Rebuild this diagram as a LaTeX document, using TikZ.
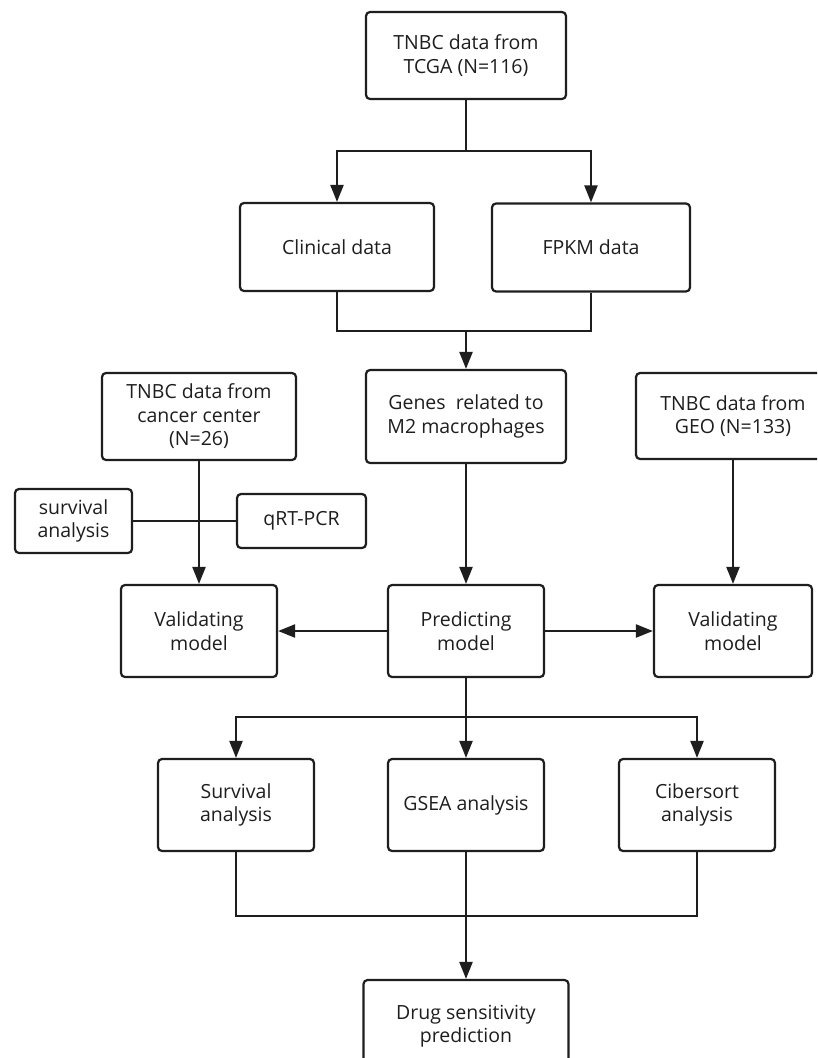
\documentclass[tikz,border=0pt]{standalone}
\usepackage{fontspec}
\setmainfont{Open Sans}
\usetikzlibrary{arrows.meta}
\definecolor{ink}{HTML}{1E1E1E}
\begin{document}
\begin{tikzpicture}[x=1pt,y=-1pt,
  box/.style={draw=ink, line width=2.2pt, rounded corners=4pt, inner sep=0pt, align=center,
    font=\fontsize{19.5}{23.5}\selectfont, text=ink},
  conn/.style={draw=ink, line width=2.2pt},
  arr/.style={conn, -{Triangle[length=17pt,width=13pt]}}]
\useasboundingbox (0,0) rectangle (817,1058);
\fill[white] (0,0) rectangle (817,1058);
\clip (0,0) rectangle (817,1058);
% top
\node[box, minimum width=200pt, minimum height=87pt] (tcga) at (466,55.5) {TNBC data from\\TCGA (N=116)};
\node[box, minimum width=194pt, minimum height=88pt] (clin) at (337,247) {Clinical data};
\node[box, minimum width=198pt, minimum height=88pt] (fpkm) at (591,247.5) {FPKM data};
% middle row
\node[box, minimum width=200pt, minimum height=93pt] (genes) at (466,416.5) {Genes~ related to\\M2 macrophages};
\node[box, minimum width=194pt, minimum height=87pt] (cancer) at (199,416.5) {TNBC data from\\cancer center\\(N=26)};
\node[box, minimum width=194pt, minimum height=86pt] (geo) at (733,416) {TNBC data from\\GEO (N=133)};
\node[box, minimum width=117pt, minimum height=64pt] (survs) at (73.5,521) {survival\\analysis};
\node[box, minimum width=129pt, minimum height=54pt] (qrt) at (301.5,521) {qRT-PCR};
% model row
\node[box, minimum width=156pt, minimum height=92pt] (valL) at (199,631) {Validating\\model};
\node[box, minimum width=156pt, minimum height=92pt] (pred) at (466,631) {Predicting\\model};
\node[box, minimum width=158pt, minimum height=92pt] (valR) at (733,631) {Validating\\model};
% analysis row
\node[box, minimum width=156pt, minimum height=92pt] (surv) at (236,805) {Survival\\analysis};
\node[box, minimum width=156pt, minimum height=92pt] (gsea) at (466,805) {GSEA analysis};
\node[box, minimum width=156pt, minimum height=92pt] (cib) at (697,805) {Cibersort\\analysis};
\node[box, minimum width=205pt, minimum height=92pt] (drug) at (466,1026) {Drug sensitivity\\prediction};
% connectors
\coordinate (t1) at (466,151);
\draw[conn] (tcga.south) -- (t1);
\draw[arr] (t1) -| (clin.north);
\draw[arr] (t1) -| (fpkm.north);
\coordinate (m1) at (466,331);
\draw[conn] (clin.south) |- (m1);
\draw[conn] (fpkm.south) |- (m1);
\draw[arr] (m1) -- (genes.north);
\draw[conn] (survs.east) -- (qrt.west);
\draw[arr] (cancer.south) -- (valL.north);
\draw[arr] (genes.south) -- (pred.north);
\draw[arr] (geo.south) -- (valR.north);
\draw[arr] (pred.west) -- (valL.east);
\draw[arr] (pred.east) -- (valR.west);
\coordinate (b1) at (466,717);
\draw[conn] (pred.south) -- (b1);
\draw[arr] (b1) -| (surv.north);
\draw[arr] (b1) -| (cib.north);
\draw[arr] (b1) -- (gsea.north);
\coordinate (b2) at (466,916);
\draw[conn] (surv.south) |- (b2);
\draw[conn] (cib.south) |- (b2);
\draw[arr] (gsea.south) -- (drug.north);
\end{tikzpicture}
\end{document}
